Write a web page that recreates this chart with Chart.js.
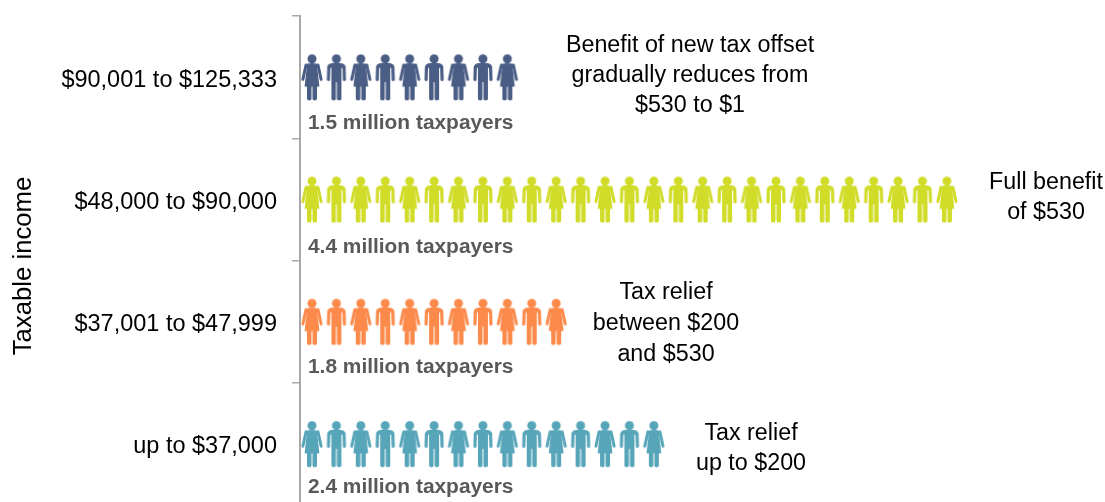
<!DOCTYPE html>
<html>
<head>
<meta charset="utf-8">
<title>Taxpayers by taxable income</title>
<script src="https://cdn.jsdelivr.net/npm/chart.js@4"></script>
<style>
    html, body { margin: 0; padding: 0; background: #fff; overflow: hidden; height: 502px; }
    #wrap { width: 1105px; height: 510px; }
</style>
</head>
<body>
<div id="wrap"><canvas id="chartContribuyentes"></canvas></div>
<script>
// Rows, top to bottom
const incomeBands = ['$90,001 to $125,333', '$48,000 to $90,000', '$37,001 to $47,999', 'up to $37,000'];
const iconCounts = [9, 27, 11, 15];
const taxpayerLabels = ['1.5 million taxpayers', '4.4 million taxpayers', '1.8 million taxpayers', '2.4 million taxpayers'];
const rowColors = ['#4a5d85', '#d0dc28', '#fb8a4b', '#57a5b9'];
const reliefNotes = [
    ['Benefit of new tax offset', 'gradually reduces from', '$530 to $1'],
    ['Full benefit', 'of $530'],
    ['Tax relief', 'between $200', 'and $530'],
    ['Tax relief', 'up to $200']
];
const axisTitle = 'Taxable income';

const FONT = "'Liberation Sans', Arial, sans-serif";

// Layout of the free text around the icon rows
const noteCenterX = [690, 1046, 666, 751];
const noteOffsetY = [-32, -16.5, -29.5, -10];
const noteLineHeight = [30, 30, 31, 30];
const taxpayerOffsetY = [46, 47.5, 45.5, 43];

// Icons are painted once per colour and reused as point styles
function personIcon(color, isWoman) {
    const c = document.createElement('canvas');
    c.width = 24;
    c.height = 48;
    const g = c.getContext('2d');
    g.fillStyle = color;
    g.strokeStyle = color;
    g.lineCap = 'round';
    g.translate(0, 0.8);

    g.beginPath();
    g.arc(12, 4.9, 4.5, 0, Math.PI * 2);
    g.fill();

    if (isWoman) {
        // brazos
        g.lineWidth = 3;
        [-1, 1].forEach(function(s) {
            g.beginPath();
            g.moveTo(12 + s * 6, 11.2);
            g.lineTo(12 + s * 9.1, 25.4);
            g.stroke();
        });
        // vestido
        g.beginPath();
        g.moveTo(7.2, 9.8);
        g.quadraticCurveTo(12, 8.8, 16.8, 9.8);
        g.lineTo(19.4, 32.8);
        g.lineTo(4.6, 32.8);
        g.closePath();
        g.fill();
        // piernas
        g.beginPath();
        g.roundRect(7, 32, 4.5, 14.4, [0, 0, 1.6, 1.6]);
        g.roundRect(12.5, 32, 4.5, 14.4, [0, 0, 1.6, 1.6]);
        g.fill();
    } else {
        // hombros
        g.beginPath();
        g.moveTo(7.5, 9.3);
        g.lineTo(16.5, 9.3);
        g.quadraticCurveTo(20.8, 9.6, 21.2, 14);
        g.lineTo(2.8, 14);
        g.quadraticCurveTo(3.2, 9.6, 7.5, 9.3);
        g.closePath();
        g.fill();
        // brazos
        g.lineWidth = 3.2;
        [-1, 1].forEach(function(s) {
            g.beginPath();
            g.moveTo(12 + s * 7.6, 13);
            g.lineTo(12 + s * 8, 25.6);
            g.stroke();
        });
        // torso y piernas
        g.beginPath();
        g.rect(7, 9.3, 10, 19);
        g.roundRect(7, 26, 4.5, 20.4, [0, 0, 1.6, 1.6]);
        g.roundRect(12.5, 26, 4.5, 20.4, [0, 0, 1.6, 1.6]);
        g.fill();
    }
    return c;
}

const rowDatasets = incomeBands.map(function(band, row) {
    const woman = personIcon(rowColors[row], true);
    const man = personIcon(rowColors[row], false);
    const puntos = [];
    for (let i = 0; i < iconCounts[row]; i++) {
        puntos.push({ x: i, y: band });
    }
    return {
        label: band,
        data: puntos,
        pointStyle: function(ctx) { return ctx.dataIndex % 2 === 0 ? woman : man; },
        clip: false
    };
});

// Axis title, bold counts under each row and the relief notes to the right
const rowTextPlugin = {
    id: 'rowText',
    afterDatasetsDraw: function(chart) {
        const g = chart.ctx;
        const xs = chart.scales.x;
        const ys = chart.scales.y;
        g.save();
        g.textBaseline = 'middle';
        incomeBands.forEach(function(band, row) {
            const cy = ys.getPixelForValue(row);
            g.font = 'bold 20.9px ' + FONT;
            g.fillStyle = '#595959';
            g.textAlign = 'left';
            g.fillText(taxpayerLabels[row], xs.getPixelForValue(0) - 4, cy + taxpayerOffsetY[row]);

            g.font = '23.3px ' + FONT;
            g.fillStyle = '#000';
            g.textAlign = 'center';
            reliefNotes[row].forEach(function(line, n) {
                g.fillText(line, noteCenterX[row], cy + noteOffsetY[row] + n * noteLineHeight[row]);
            });
        });
        g.translate(31, 266);
        g.rotate(-Math.PI / 2);
        g.font = '25.7px ' + FONT;
        g.textBaseline = 'alphabetic';
        g.fillStyle = '#000';
        g.textAlign = 'center';
        g.fillText(axisTitle, 0, 0);
        g.restore();
    }
};

new Chart(document.getElementById('chartContribuyentes'), {
    type: 'scatter',
    data: { datasets: rowDatasets },
    plugins: [rowTextPlugin],
    options: {
        responsive: true,
        maintainAspectRatio: false,
        animation: false,
        layout: { padding: { top: 16, bottom: 5, left: 0, right: 0 } },
        plugins: { legend: { display: false }, tooltip: { enabled: false } },
        scales: {
            x: {
                type: 'linear',
                display: false,
                min: -0.49,
                max: 32.27
            },
            y: {
                type: 'category',
                labels: incomeBands,
                offset: true,
                afterFit: function(scale) {
                    scale.width = 300;
                    // the axis runs edge to edge, no room kept for half labels
                    scale.paddingTop = 0;
                    scale.paddingBottom = 0;
                },
                ticks: {
                    color: '#000',
                    font: { family: FONT, size: 23.5 },
                    padding: 15,
                    labelOffset: 3
                },
                border: { color: '#a8a8a8', width: 2 },
                grid: {
                    offset: true,
                    color: '#a8a8a8',
                    lineWidth: 1.5,
                    tickLength: 8,
                    drawOnChartArea: false
                }
            }
        }
    }
});
</script>
</body>
</html>
